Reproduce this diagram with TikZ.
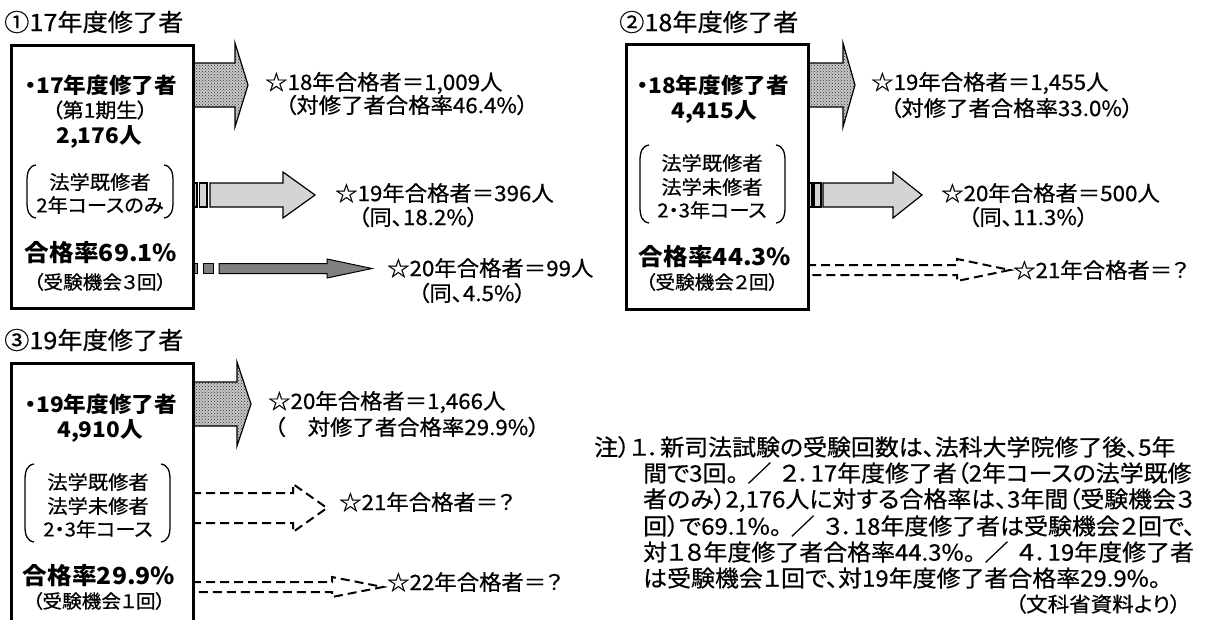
\documentclass[tikz,border=0pt]{standalone}
\usepackage{fontspec}
\setmainfont{Noto Sans CJK JP}[FakeStretch=1.05,RawFeature={+palt},UprightFeatures={FakeBold=0.6}]
\usetikzlibrary{patterns}
\newcommand\fsz[1]{\fontsize{#1}{#1}\selectfont}
\newcommand\sep{\hspace{9pt}／\hspace{9pt}}
% style, x start, x head base, x tip, y centre, shaft half height, head half height
\newcommand\blockarrow[7]{%
  \path[#1] (#2,#5-#6) -- (#3,#5-#6) -- (#3,#5-#7) -- (#4,#5) -- (#3,#5+#7) -- (#3,#5+#6) -- (#2,#5+#6) -- cycle;}
% dashed outline arrow: x start, x head base, x tip, y centre, shaft half, head half
\newcommand\dasharrow[6]{%
  \draw[dsh] (#1,#4-#5) -- (#2,#4-#5) -- (#2,#4-#6) -- (#3,#4) -- (#2,#4+#6) -- (#2,#4+#5) -- (#1,#4+#5);}
% rounded brackets: x left, x right, y top, y bottom
\newcommand\roundparens[4]{%
  \draw[pline] (#1+9,#3) .. controls (#1+2,#3+1) and (#1,#3+7) .. (#1,#3+16) -- (#1,#4-16) .. controls (#1,#4-7) and (#1+2,#4-1) .. (#1+9,#4);
  \draw[pline] (#2-9,#3) .. controls (#2-2,#3+1) and (#2,#3+7) .. (#2,#3+16) -- (#2,#4-16) .. controls (#2,#4-7) and (#2-2,#4-1) .. (#2-9,#4);}
\begin{document}
\begin{tikzpicture}[x=1pt,y=-1pt,
  box/.style={draw, line width=3.3pt, fill=white, inner sep=0pt, anchor=north west},
  lbl/.style={inner sep=0pt, anchor=west, font=\fsz{21.3}},
  note/.style={inner sep=0pt, anchor=west, font=\fsz{22.8}},
  ttl/.style={inner sep=0pt, anchor=west, font=\fsz{24}},
  ctr/.style={inner sep=0pt, anchor=center},
  hdr/.style={ctr, font=\bfseries\fsz{21.5}},
  num/.style={ctr, font=\bfseries\fsz{21.5}},
  rate/.style={ctr, font=\bfseries\fsz{23.5}},
  chance/.style={ctr, font=\fsz{18.7}},
  ptxt/.style={ctr, font=\fsz{19.3}},
  gen/.style={ctr, font=\fsz{20}},
  pline/.style={draw, line width=1.3pt},
  outl/.style={draw, line width=1.2pt},
  dotted arrow/.style={fill=black!22, postaction={pattern=crosshatch dots, pattern color=black!80}},
  light/.style={fill=black!17, draw, line width=1.2pt},
  dark/.style={fill=black!50, draw, line width=1pt},
  dsh/.style={draw, line width=2pt, dash pattern=on 9pt off 5pt}]
\useasboundingbox (0,0) rectangle (1208,619);
\fill[white] (0,0) rectangle (1208,619);
\clip (0,0) rectangle (1208,619);

% ---------- titles ----------
\node[ttl] (t1) at (4,22) {①17年度修了者};
\node[ttl] (t2) at (619,22) {②18年度修了者};
\node[ttl] (t3) at (4,340) {③19年度修了者};

% ---------- arrows of box 1 ----------
\blockarrow{dotted arrow}{192}{235}{248}{85}{22}{42}
\blockarrow{outl}{192}{235}{248}{85}{22}{42}
\path[light] (193,183) rectangle (197,207);
\path[light] (199.5,183) rectangle (207,207);
\blockarrow{light}{210}{283}{315}{195}{12}{23}
\path[dark] (193,263.5) rectangle (197,273.5);
\path[dark] (203,263.5) rectangle (213,273.5);
\blockarrow{dark}{219}{327}{372}{268.5}{5}{9.5}

% ---------- arrows of box 2 ----------
\blockarrow{dotted arrow}{807}{843}{855}{85}{22}{42}
\blockarrow{outl}{807}{843}{855}{85}{22}{42}
\path[light] (808,183) rectangle (812,207);
\path[light] (814,183) rectangle (821,207);
\blockarrow{light}{823}{893}{922}{195}{12}{23}
\dasharrow{807}{957}{1010}{270}{5}{11}

% ---------- arrows of box 3 ----------
\blockarrow{dotted arrow}{192}{237}{251}{404}{22}{42}
\blockarrow{outl}{192}{237}{251}{404}{22}{42}
\dasharrow{192}{293}{327}{508}{15}{24}
\dasharrow{192}{332}{383}{587}{5}{10}

% ---------- boxes ----------
\node[box, minimum width=182pt, minimum height=263pt] (b1) at (10,44) {};
\node[box, minimum width=182pt, minimum height=265pt] (b2) at (625,43) {};
\node[box, minimum width=182pt, minimum height=280pt] (b3) at (10,362) {};

% ---------- box 1 contents ----------
\node[hdr] (b1h) at (101,85) {・17年度修了者};
\node[gen] (b1g) at (100,110) {（第1期生）};
\node[num] (b1n) at (99,137) {2,176人};
\roundparens{27}{173}{165}{218}
\node[ptxt] (b1p1) at (100,182) {法学既修者};
\node[ptxt] (b1p2) at (100,205) {2年コースのみ};
\node[rate] (b1r) at (101,253) {合格率69.1\%};
\node[chance] (b1c) at (100,282) {（受験機会３回）};

% ---------- box 2 contents ----------
\node[hdr] (b2h) at (713,85) {・18年度修了者};
\node[num] (b2n) at (714,112) {4,415人};
\roundparens{640}{785}{145}{223}
\node[ptxt] (b2p1) at (712,163) {法学既修者};
\node[ptxt] (b2p2) at (712,187) {法学未修者};
\node[ptxt] (b2p3) at (712,210) {2・3年コース};
\node[rate] (b2r) at (715,257) {合格率44.3\%};
\node[chance] (b2c) at (712,282) {（受験機会２回）};

% ---------- box 3 contents ----------
\node[hdr] (b3h) at (101,404) {・19年度修了者};
\node[num] (b3n) at (100,431) {4,910人};
\roundparens{25}{170}{464}{542}
\node[ptxt] (b3p1) at (98,482) {法学既修者};
\node[ptxt] (b3p2) at (98,506) {法学未修者};
\node[ptxt] (b3p3) at (98,529) {2・3年コース};
\node[rate] (b3r) at (99,576) {合格率29.9\%};
\node[chance] (b3c) at (99,601) {（受験機会１回）};

% ---------- result labels ----------
\node[lbl] (l1a) at (265,83) {☆18年合格者＝1,009人};
\node[lbl] (l1a2) at (285,105) {（対修了者合格率46.4\%）};
\node[lbl] (l1b) at (335,193) {☆19年合格者＝396人};
\node[lbl] (l1b2) at (358,217) {（同、18.2\%）};
\node[lbl] (l1c) at (387,268) {☆20年合格者＝99人};
\node[lbl] (l1c2) at (418,293) {（同、4.5\%）};

\node[lbl] (l2a) at (871,83) {☆19年合格者＝1,455人};
\node[lbl] (l2a2) at (890,108) {（対修了者合格率33.0\%）};
\node[lbl] (l2b) at (941,193) {☆20年合格者＝500人};
\node[lbl] (l2b2) at (968,217) {（同、11.3\%）};
\node[lbl] (l2c) at (1013,270) {☆21年合格者＝？};

\node[lbl] (l3a) at (268,402) {☆20年合格者＝1,466人};
\node[lbl] (l3a2) at (274,427) {（　対修了者合格率29.9\%）};
\node[lbl] (l3b) at (339,502) {☆21年合格者＝？};
\node[lbl] (l3c) at (387,582) {☆22年合格者＝？};

% ---------- note ----------
\node[note] (n1) at (594,447) {注）１．新司法試験の受験回数は、法科大学院修了後、5年};
\node[note] (n2) at (643,473) {間で3回。\sep ２．17年度修了者（2年コースの法学既修};
\node[note] (n3) at (643,500) {者のみ）2,176人に対する合格率は、3年間（受験機会３};
\node[note] (n4) at (643,526) {回）で69.1\%。\sep ３．18年度修了者は受験機会２回で、};
\node[note] (n5) at (643,552) {対１８年度修了者合格率44.3\%。\sep ４．19年度修了者};
\node[note] (n6) at (643,578) {は受験機会１回で、対19年度修了者合格率29.9\%。};
\node[inner sep=0pt, anchor=east, font=\fsz{20.5}] (src) at (1181,604) {（文科省資料より）};
\end{tikzpicture}
\end{document}
